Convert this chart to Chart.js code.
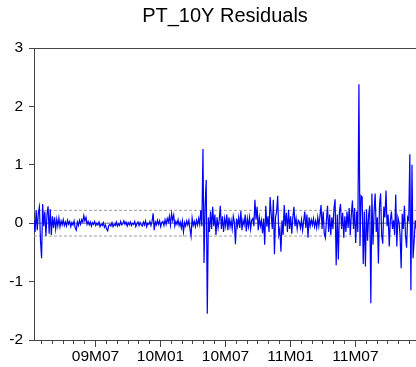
<!DOCTYPE html>
<html><head><meta charset="utf-8">
<script src="https://cdn.jsdelivr.net/npm/chart.js@4.4.0/dist/chart.umd.min.js"></script>
<style>html,body{margin:0;padding:0;background:#fff;}canvas{display:block;}</style>
</head><body>
<canvas id="c" width="416" height="367"></canvas>
<script>
const chartTitle = 'PT_10Y Residuals';
// x positions are months since 2009M01 (0 = start of Jan 2009)
const startMonth = 0.32;
const stepMonths = 0.1;
const xMin = 0.32;
const xMax = 35.59;
const residuals = [
0.05,-0.15,0.22,-0.12,0.18,0.28,-0.3,-0.6,0.33,-0.05,
0.2,-0.22,0.15,0.29,-0.18,0.24,-0.2,0.12,-0.08,0.1,
-0.1,0.07,-0.05,0.09,-0.06,0.04,-0.03,0.06,-0.04,0.02,
-0.05,0.05,-0.02,0.03,-0.06,0.01,-0.03,0.04,-0.08,-0.12,
0.02,-0.04,0.05,-0.02,0.06,0.02,0.13,0.04,0.1,-0.02,
0.03,-0.03,0.02,-0.05,0.01,-0.02,0.03,-0.04,0.0,-0.03,
0.02,-0.06,-0.02,-0.04,0.01,-0.07,-0.03,-0.1,-0.13,-0.04,
-0.02,-0.05,0.01,-0.06,-0.02,-0.04,0.02,-0.05,-0.01,-0.04,
0.03,-0.03,-0.01,0.04,-0.02,0.02,-0.05,0.01,-0.03,0.02,
-0.04,0.0,-0.02,0.03,-0.06,-0.01,0.02,-0.04,0.01,-0.03,
-0.05,0.02,-0.03,0.04,-0.06,0.0,-0.02,0.03,-0.04,0.03,
0.17,-0.12,0.02,-0.03,0.05,-0.02,0.04,-0.06,0.01,0.03,
-0.04,0.06,-0.02,0.08,0.02,0.12,-0.03,0.17,0.05,0.14,
-0.05,0.03,-0.02,0.06,-0.04,0.02,-0.08,0.04,-0.15,0.01,
-0.05,0.04,-0.03,0.05,-0.1,-0.22,0.09,-0.04,0.03,-0.06,
0.05,-0.03,0.08,-0.02,0.22,-0.05,1.27,-0.68,0.3,0.74,
-1.55,0.1,-0.15,0.2,-0.1,0.28,-0.05,0.15,-0.2,0.1,
-0.08,0.05,0.3,-0.1,0.12,-0.15,0.08,-0.05,0.15,-0.12,
0.1,-0.06,0.05,-0.1,0.12,0.02,-0.36,0.08,-0.05,0.1,
-0.08,0.21,-0.12,0.05,-0.03,0.15,-0.14,0.08,-0.06,0.1,
-0.1,0.05,0.08,-0.05,0.4,0.06,0.28,-0.12,0.1,-0.05,
0.05,-0.17,0.08,-0.37,0.3,-0.06,0.12,-0.15,0.45,0.15,
-0.1,0.4,-0.53,0.1,0.2,0.47,-0.2,-0.1,-0.49,0.05,
-0.2,0.31,-0.05,0.18,-0.15,0.23,-0.1,0.12,-0.18,0.1,
0.28,-0.05,0.08,-0.1,0.05,0.02,-0.08,0.06,-0.12,0.04,
0.2,-0.08,0.15,-0.25,0.1,-0.05,0.06,-0.03,0.08,-0.06,
0.04,-0.08,0.1,-0.05,0.12,0.31,-0.1,0.2,-0.18,-0.25,
0.05,0.3,-0.15,0.15,-0.2,0.1,-0.1,0.26,0.41,-0.72,
0.15,-0.62,0.2,0.33,-0.1,0.18,-0.25,0.12,-0.15,0.2,
-0.08,0.26,-0.2,0.15,0.39,-0.1,0.26,-0.34,0.2,-0.15,
2.38,-0.39,0.47,0.45,-0.7,0.2,-0.74,0.24,-0.3,0.15,
0.3,-1.37,0.51,-0.37,0.2,0.51,-0.15,0.1,-0.69,0.3,
0.51,-0.2,-0.35,0.28,0.1,0.56,-0.05,0.15,-0.4,0.05,
0.2,-0.1,0.05,-0.2,0.49,-0.4,0.1,0.02,-0.2,-0.77,
0.16,-0.1,0.3,-0.2,-0.42,0.1,0.05,1.18,-1.15,1.0,
-0.6,-0.3,0.05,-0.1
];
const bandLevel = 0.22;
const zeroLevel = 0;
const yMin = -2, yMax = 3, yStep = 1;
const minorTicks = [1,2,3,4,5,6,7,8,9,10,11,12,13,14,15,16,17,18,19,20,21,22,23,24,25,26,27,28,29,30,31,32,33,34,35];
const majorTicks = [6,12,18,24,30];
const majorLabels = ['09M07','10M01','10M07','11M01','11M07'];

const FONT = "'Liberation Sans', Arial, sans-serif";
const AXIS = '#444444';

const seriesPoints = residuals.map((v, i) => ({x: startMonth + i * stepMonths, y: v}));
const hline = lvl => [{x: xMin, y: lvl}, {x: xMax, y: lvl}];

new Chart(document.getElementById('c'), {
  type: 'line',
  data: {
    datasets: [
      {data: seriesPoints, borderColor: '#0000ff', borderWidth: 1.2, pointRadius: 0, tension: 0, order: 0},
      {data: hline(zeroLevel), borderColor: '#6e6e6e', borderWidth: 1, pointRadius: 0, order: 1},
      {data: hline(bandLevel), borderColor: '#a0a0a0', borderWidth: 1, borderDash: [3, 2], pointRadius: 0, order: 1},
      {data: hline(-bandLevel), borderColor: '#a0a0a0', borderWidth: 1, borderDash: [3, 2], pointRadius: 0, order: 1}
    ]
  },
  options: {
    responsive: false,
    animation: false,
    devicePixelRatio: 1,
    events: [],
    layout: {padding: 0},
    plugins: {
      legend: {display: false},
      tooltip: {enabled: false},
      title: {display: true, text: chartTitle, fullSize: false, color: '#000',
        font: {family: FONT, size: 20, weight: 'normal'}, padding: {top: 4, bottom: 20}}
    },
    scales: {
      x: {
        type: 'linear', position: 'bottom', min: xMin, max: xMax,
        afterBuildTicks: s => { s.ticks = minorTicks.map(v => ({value: v})); },
        afterFit: s => { s.height = 27; },
        ticks: {autoSkip: false, maxRotation: 0, minRotation: 0, padding: 3, color: '#000',
          font: {family: FONT, size: 15.5},
          callback: v => { const k = majorTicks.indexOf(v); return k >= 0 ? majorLabels[k] : ''; }},
        grid: {drawOnChartArea: false, drawTicks: true, tickLength: 4, color: AXIS, lineWidth: 1},
        border: {display: true, color: AXIS, width: 1}
      },
      xMajor: {
        type: 'linear', axis: 'x', position: {y: yMin}, min: xMin, max: xMax,
        afterBuildTicks: s => { s.ticks = majorTicks.map(v => ({value: v})); },
        ticks: {display: false},
        grid: {drawOnChartArea: false, drawTicks: true, tickLength: 7, color: AXIS, lineWidth: 1},
        border: {display: false}
      },
      xTop: {
        type: 'linear', axis: 'x', position: 'top', min: xMin, max: xMax,
        ticks: {display: false},
        grid: {display: false, drawTicks: false},
        border: {display: true, color: AXIS, width: 1}
      },
      y: {
        type: 'linear', position: 'left', min: yMin, max: yMax,
        afterFit: s => { s.width = 34; },
        ticks: {stepSize: yStep, padding: 6, color: '#000', font: {family: FONT, size: 15.5}},
        grid: {drawOnChartArea: false, drawTicks: true, tickLength: 5, color: AXIS, lineWidth: 1},
        border: {display: true, color: AXIS, width: 1}
      }
    }
  }
});
</script>
</body></html>
